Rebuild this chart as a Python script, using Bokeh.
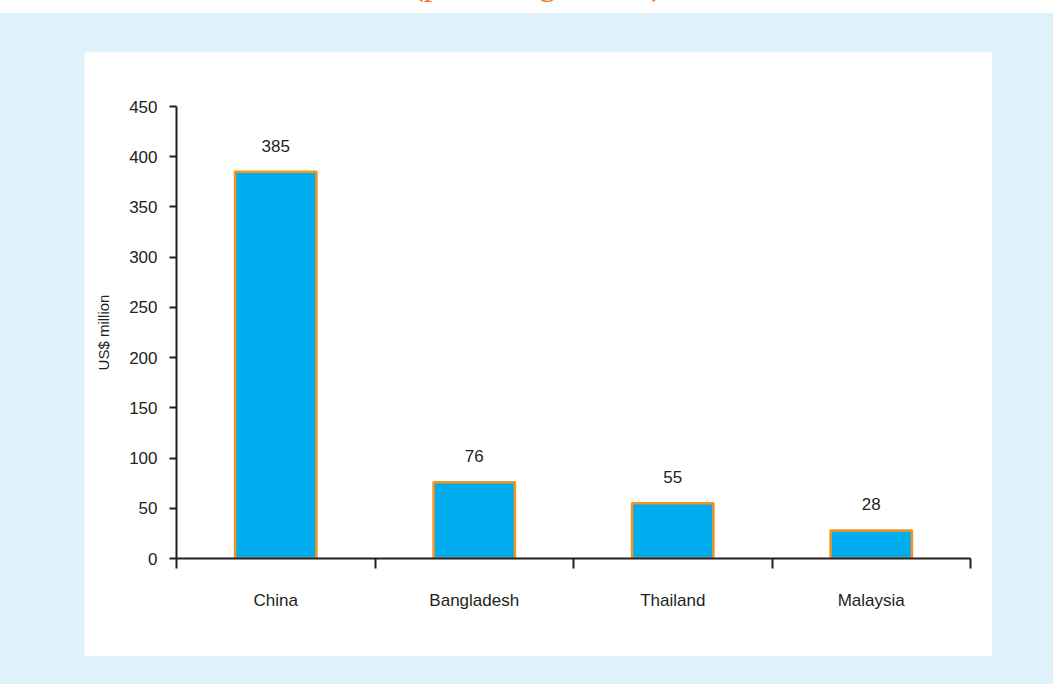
from bokeh.plotting import figure
from bokeh.models import Range1d, FixedTicker, SingleIntervalTicker, Div, ColumnDataSource
from bokeh.layouts import column
from bokeh.core.properties import value
from bokeh.embed import file_html
from bokeh.resources import INLINE

countries = ["China", "Bangladesh", "Thailand", "Malaysia"]
values = [385, 76, 55, 28]
value_labels = ["385", "76", "55", "28"]
y_ticks_interval = 50
y_max = 450
title_text = "(percentage share)"
y_label = "US$ million"

FONT = "Liberation Sans"
DARK = "#231f20"
BLUE_BG = "#dff1fb"

xs = [i + 0.5 for i in range(len(countries))]
src = ColumnDataSource(dict(x=xs, top=values, label=value_labels))

p = figure(width=908, height=605, output_backend="svg", toolbar_location=None,
           x_range=Range1d(0, len(countries)), y_range=Range1d(0, y_max),
           min_border_left=92, min_border_right=22, min_border_top=55, min_border_bottom=98,
           margin=(38, 61, 28, 84))
p.outline_line_color = None
p.border_fill_color = "white"
p.background_fill_color = "white"
p.xgrid.visible = False
p.ygrid.visible = False

p.vbar(x="x", top="top", width=0.41, bottom=0, source=src,
       fill_color="#00adee", line_color="#f7941d", line_width=2.5)
p.text(x="x", y="top", text="label", source=src, text_align="center",
       text_baseline="alphabetic", y_offset=-26, text_font_size="17px",
       text_font=value(FONT), text_color=DARK)

# y axis
ya = p.yaxis[0]
ya.ticker = SingleIntervalTicker(interval=y_ticks_interval, num_minor_ticks=0)
ya.axis_line_color = DARK
ya.axis_line_width = 2
ya.major_tick_line_color = DARK
ya.major_tick_line_width = 2
ya.major_tick_out = 7
ya.major_tick_in = 0
ya.minor_tick_line_color = None
ya.major_label_text_font = FONT
ya.major_label_text_font_size = "17px"
ya.major_label_text_color = DARK
ya.major_label_standoff = 12
ya.axis_label = y_label
ya.axis_label_text_font = FONT
ya.axis_label_text_font_size = "15px"
ya.axis_label_text_font_style = "normal"
ya.axis_label_text_color = DARK
ya.axis_label_standoff = 14

# x axis: labels at centres, ticks at boundaries
xa = p.xaxis[0]
xa.ticker = FixedTicker(ticks=xs, minor_ticks=list(range(len(countries) + 1)))
xa.major_label_overrides = {x: c for x, c in zip(xs, countries)}
xa.axis_line_color = DARK
xa.axis_line_width = 2
xa.major_tick_out = 0
xa.major_tick_in = 0
xa.minor_tick_line_color = DARK
xa.minor_tick_line_width = 2
xa.minor_tick_out = 10
xa.minor_tick_in = 0
xa.major_label_text_font = FONT
xa.major_label_text_font_size = "17px"
xa.major_label_text_color = DARK
xa.major_label_standoff = 22

title_div = Div(
    text=('<div style="position:relative; top:-33px; left:11px; width:1053px; '
          'text-align:center; font-family:\'Liberation Serif\', serif; font-size:34px; '
          'line-height:34px; color:#f47920; white-space:nowrap;">' + title_text + '</div>'),
    width=1053, height=13, margin=0,
    styles={"overflow": "hidden", "background-color": "white"},
)

root = column(title_div, p, styles={"background-color": BLUE_BG, "position": "fixed",
                                    "left": "0px", "top": "0px"})

open("out.html", "w").write(file_html(root, INLINE))
